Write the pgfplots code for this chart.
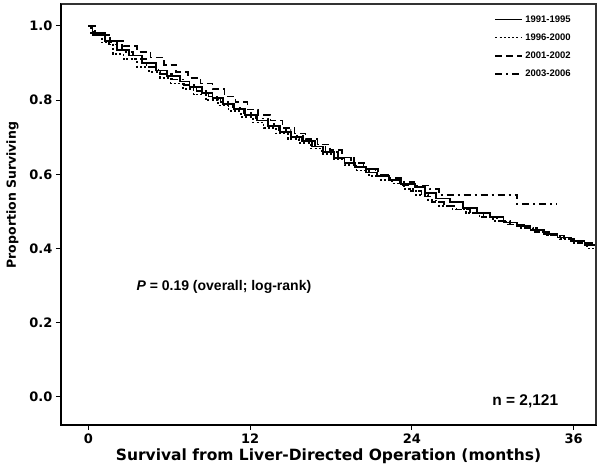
\documentclass[border=0pt]{standalone}
\usepackage{fontspec}
\setmainfont{Liberation Sans}
\newfontfamily\dejavu{DejaVu Sans}
\usepackage{pgfplots}
\pgfplotsset{compat=1.18}
\begin{document}
\begin{tikzpicture}
\begin{axis}[
  name=ax,
  scale only axis,
  width=535pt, height=421pt,
  xmin=-2.04, xmax=37.66,
  ymin=-0.0755, ymax=1.059,
  xtick={0,12,24,36},
  ytick={0,0.2,0.4,0.6,0.8,1.0},
  yticklabel style={/pgf/number format/fixed,/pgf/number format/fixed zerofill,/pgf/number format/precision=1},
  /pgf/number format/assume math mode=true,
  tick label style={font=\dejavu\bfseries\fontsize{13}{15}\selectfont},
  tick align=outside,
  xtick pos=bottom, ytick pos=left,
  major tick length=5pt,
  tick style={black, line width=1pt},
  axis line style={line width=1.2pt, black},
  xlabel={\dejavu\bfseries\fontsize{15.5}{18}\selectfont Survival from Liver-Directed Operation (months)},
  ylabel={\dejavu\bfseries\fontsize{12.5}{15}\selectfont Proportion Surviving},
  xlabel style={yshift=2pt},
  ylabel style={at={(ticklabel cs:0.546)}, yshift=4pt},
  legend style={draw=none, fill=none, at={(0.81,0.978)}, anchor=north west,
    font=\bfseries\fontsize{9.5}{11}\selectfont, row sep=6pt, inner sep=0pt,
    cells={anchor=west}},
  legend image code/.code={\draw[#1] (0pt,0pt) -- (27pt,0pt);},
]
% 1991-1995 solid
\addplot[const plot, black, line width=1.8pt] coordinates {
(0,1.0)(0.3,0.98)(1.2,0.96)(2.1,0.935)(3.0,0.92)(4.0,0.90)(5.0,0.88)(5.8,0.865)(6.8,0.85)(7.5,0.835)(8.4,0.82)(9.2,0.805)(10.0,0.79)(10.8,0.775)(11.6,0.76)(12.5,0.745)(13.3,0.73)(14.2,0.715)(15.0,0.70)(15.8,0.69)(16.6,0.675)(17.4,0.66)(18.2,0.645)(19.0,0.63)(19.8,0.62)(20.6,0.605)(21.4,0.595)(22.3,0.585)(23.2,0.575)(24.2,0.565)(25.0,0.55)(25.8,0.535)(26.8,0.525)(27.8,0.51)(28.8,0.495)(29.8,0.485)(30.8,0.47)(31.8,0.46)(32.8,0.45)(33.8,0.44)(34.8,0.43)(35.8,0.42)(36.8,0.41)(37.66,0.41)};
\addlegendentry{1991-1995}
% 1996-2000 dotted
\addplot[const plot, black, line width=1.6pt, dash pattern=on 2pt off 2.2pt] coordinates {
(0,1.0)(0.2,0.975)(1.0,0.955)(1.8,0.925)(2.6,0.91)(3.6,0.89)(4.5,0.875)(5.3,0.86)(6.1,0.845)(7.0,0.83)(7.8,0.815)(8.7,0.80)(9.6,0.785)(10.4,0.77)(11.3,0.755)(12.2,0.74)(13.0,0.725)(13.9,0.71)(14.8,0.695)(15.6,0.685)(16.5,0.67)(17.3,0.655)(18.2,0.64)(19.0,0.625)(19.9,0.61)(20.8,0.595)(21.7,0.585)(22.5,0.575)(23.4,0.56)(24.3,0.545)(25.2,0.53)(26.0,0.515)(27.0,0.505)(28.0,0.495)(29.0,0.485)(30.0,0.475)(31.0,0.465)(32.0,0.455)(33.0,0.445)(34.0,0.435)(35.0,0.425)(36.0,0.415)(37.0,0.40)(37.66,0.40)};
\addlegendentry{1996-2000}
% 2001-2002 dashed
\addplot[const plot, black, line width=1.6pt, dash pattern=on 7pt off 4pt] coordinates {
(0,1.0)(0.4,0.975)(1.6,0.96)(2.6,0.945)(3.6,0.93)(4.6,0.915)(5.6,0.895)(6.5,0.875)(7.4,0.86)(8.3,0.845)(9.2,0.83)(10.1,0.81)(10.9,0.795)(11.8,0.775)(12.6,0.76)(13.5,0.745)(14.4,0.725)(15.3,0.71)(16.1,0.695)(17.0,0.68)(17.9,0.665)(18.8,0.645)(19.7,0.63)(20.6,0.615)(21.5,0.60)(22.3,0.585)(23.1,0.57)(23.9,0.555)(24.7,0.54)(25.5,0.525)(26.4,0.515)(27.3,0.505)(28.3,0.495)(29.3,0.485)(30.3,0.475)(31.3,0.465)(32.3,0.455)(33.3,0.445)(34.3,0.435)(35.3,0.425)(36.3,0.415)(37.66,0.415)};
\addlegendentry{2001-2002}
% 2003-2006 dash-dot
\addplot[const plot, black, line width=1.6pt, dash pattern=on 7pt off 4pt on 2pt off 4pt] coordinates {
(0,1.0)(0.5,0.975)(1.5,0.95)(2.5,0.93)(3.3,0.91)(4.3,0.89)(5.2,0.87)(6.2,0.855)(7.1,0.84)(8.0,0.825)(8.9,0.81)(9.8,0.795)(10.7,0.78)(11.5,0.765)(12.4,0.75)(13.3,0.735)(14.1,0.72)(15.0,0.705)(15.9,0.69)(16.8,0.675)(17.6,0.66)(18.5,0.645)(19.5,0.63)(20.4,0.615)(21.3,0.60)(22.4,0.59)(23.4,0.58)(24.2,0.57)(25.3,0.56)(26.0,0.545)(31.8,0.52)(34.8,0.52)};
\addlegendentry{2003-2006}
\node[anchor=west, font=\bfseries\fontsize{14}{16}\selectfont] at (rel axis cs:0.1346,0.328) {\textit{P} = 0.19 (overall; log-rank)};
\node[anchor=east, font=\bfseries\fontsize{15.5}{17}\selectfont] at (rel axis cs:0.936,0.057) {n = 2,121};
\end{axis}
\draw[black!80, line width=1.2pt] (ax.north west) -- (ax.north east) -- (ax.south east);
\draw[black, line width=2pt] (ax.north west) -- (ax.south west) -- (ax.south east);
\pgfresetboundingbox
\path (ax.south west) ++(-61pt,-43pt) coordinate (bl);
\path (ax.north east) ++(4pt,4pt) coordinate (tr);
\path (bl) rectangle (tr);
\end{tikzpicture}
\end{document}
